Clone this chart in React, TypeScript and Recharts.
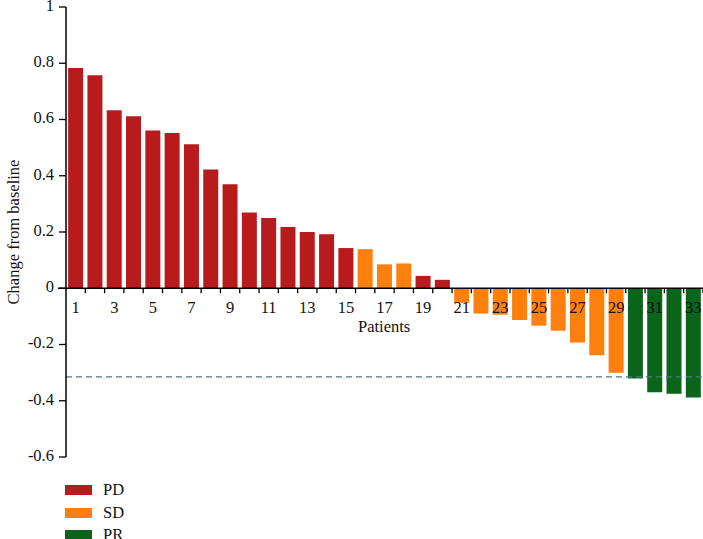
import React from "react";
import { BarChart, Bar, XAxis, YAxis, Cell, ReferenceLine, Label } from "recharts";

const patients = Array.from({ length: 33 }, (_, i) => String(i + 1));
const changes = [
  0.783, 0.757, 0.633, 0.612, 0.561, 0.552, 0.512, 0.422, 0.37, 0.269, 0.25,
  0.218, 0.2, 0.192, 0.143, 0.139, 0.085, 0.088, 0.044, 0.03, -0.052, -0.09,
  -0.094, -0.113, -0.133, -0.151, -0.193, -0.238, -0.3, -0.321, -0.37,
  -0.375, -0.388,
];
const responses = [
  "PD", "PD", "PD", "PD", "PD", "PD", "PD", "PD", "PD", "PD", "PD", "PD",
  "PD", "PD", "PD", "SD", "SD", "SD", "PD", "PD", "SD", "SD", "SD", "SD",
  "SD", "SD", "SD", "SD", "SD", "PR", "PR", "PR", "PR",
];
const groups = ["PD", "SD", "PR"];
const yTicks = [-0.6, -0.4, -0.2, 0, 0.2, 0.4, 0.6, 0.8, 1];
const thresholdLine = -0.315;

const COLORS: Record<string, string> = {
  PD: "#b71b1c",
  SD: "#fd7f0e",
  PR: "#0a641a",
};

const data = patients.map((p, i) => ({
  patient: p,
  value: changes[i],
  group: responses[i],
}));

const W = 703;
const H = 539;
const M_TOP = 7;
const X_AXIS_H = 1;
const M_BOTTOM = 82 - X_AXIS_H;
const Y_AXIS_W = 66;
const PLOT_W = W - Y_AXIS_W;
const PLOT_H = H - M_TOP - M_BOTTOM - X_AXIS_H;
const Y_MIN = -0.6;
const Y_MAX = 1;
const ZERO_Y = M_TOP + (PLOT_H * (Y_MAX - 0)) / (Y_MAX - Y_MIN);
const BAND = PLOT_W / patients.length;
const FONT = "'Liberation Serif', 'Times New Roman', serif";

const XTick = (props: any) => {
  const { x, payload, index } = props;
  const half = BAND / 2;
  const showLabel = index % 2 === 0;
  return (
    <g>
      <line x1={x + half} x2={x + half} y1={ZERO_Y} y2={ZERO_Y + 5} stroke="#000" strokeWidth={1.3} />
      {showLabel && (
        <text
          x={x}
          y={ZERO_Y + 21}
          textAnchor="middle"
          dominantBaseline="middle"
          fontSize={16.5}
          fontFamily={FONT}
          fill="#111"
        >
          {payload.value}
        </text>
      )}
    </g>
  );
};

const YTick = (props: any) => {
  const { x, y, payload } = props;
  return (
    <text
      x={x}
      y={y}
      textAnchor="end"
      dominantBaseline="middle"
      fontSize={16.5}
      fontFamily={FONT}
      fill="#111"
    >
      {String(payload.value)}
    </text>
  );
};

const ZeroAxis = (props: any) => {
  const { x1, x2, y1 } = props;
  return <line x1={x1 - 8} x2={x2} y1={y1} y2={y1} stroke="#000" strokeWidth={1.5} />;
};

const LegendBox = () => (
  <div style={{ position: "absolute", left: 65, top: 485, fontFamily: FONT, fontSize: 16.5 }}>
    {groups.map((g) => (
      <div key={g} style={{ display: "flex", alignItems: "center", height: 22.5 }}>
        <div style={{ width: 27, height: 10, background: COLORS[g], marginRight: 11, marginTop: -12 }} />
        <span style={{ color: "#111", marginTop: -12 }}>{g}</span>
      </div>
    ))}
  </div>
);

export default function App() {
  return (
    <div style={{ position: "absolute", left: 0, top: 0, width: W, height: H, background: "#fff" }}>
      <BarChart
        width={W}
        height={H}
        data={data}
        margin={{ top: M_TOP, right: 0, bottom: M_BOTTOM, left: 0 }}
        barCategoryGap="11%"
      >
        <YAxis
          width={Y_AXIS_W}
          domain={[Y_MIN, Y_MAX]}
          ticks={yTicks}
          interval={0}
          allowDataOverflow
          axisLine={{ stroke: "#000", strokeWidth: 1.5 }}
          tickLine={{ stroke: "#000", strokeWidth: 1.3 }}
          tickSize={7}
          tickMargin={5}
          tick={<YTick />}
        >
          <Label
            value="Change from baseline"
            angle={-90}
            position="insideLeft"
            offset={0}
            dx={13}
            style={{ fontSize: 16.5, fontFamily: FONT, fill: "#111", textAnchor: "middle" }}
          />
        </YAxis>
        <ReferenceLine y={thresholdLine} stroke="#4f7880" strokeWidth={1.3} strokeDasharray="6 4" />
        <Bar dataKey="value" isAnimationActive={false}>
          {data.map((d) => (
            <Cell key={d.patient} fill={COLORS[d.group]} />
          ))}
        </Bar>
        <ReferenceLine y={0} ifOverflow="visible" shape={<ZeroAxis />} />
        <XAxis
          dataKey="patient"
          height={X_AXIS_H}
          interval={0}
          axisLine={false}
          tickLine={false}
          tickSize={0}
          tickMargin={0}
          tick={<XTick />}
        />
      </BarChart>
      <div
        style={{
          position: "absolute",
          left: 358,
          top: 317,
          fontFamily: FONT,
          fontSize: 16.5,
          color: "#111",
        }}
      >
        Patients
      </div>
      <LegendBox />
    </div>
  );
}
